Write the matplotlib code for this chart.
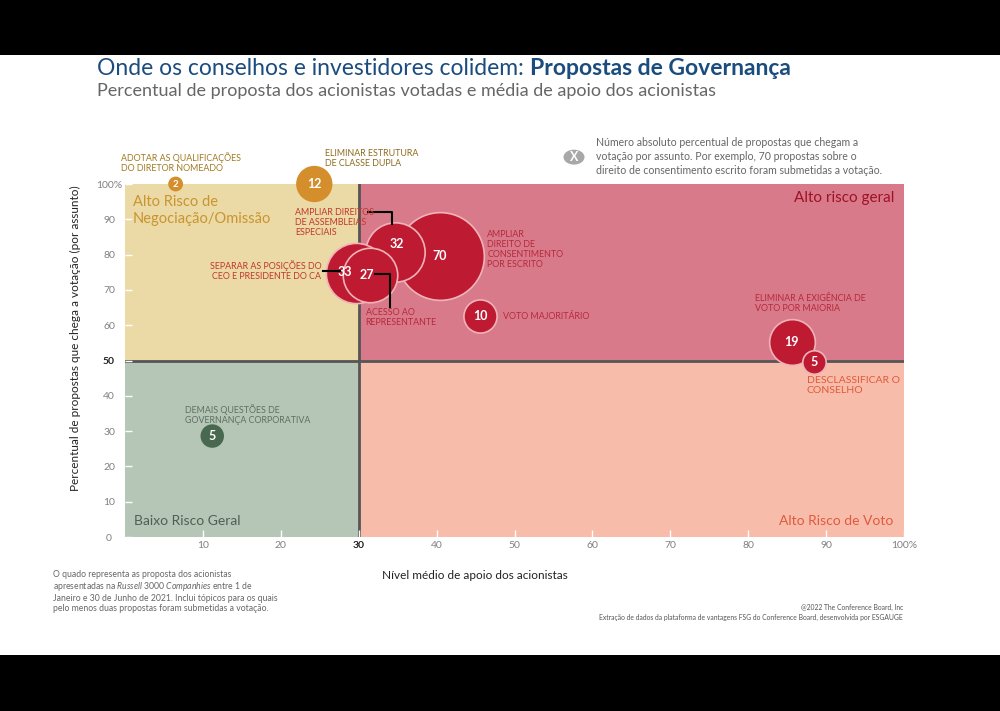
import matplotlib.pyplot as plt
from matplotlib.patches import Rectangle, Circle

plt.rcParams["font.family"] = ["Lato", "DejaVu Sans"]
plt.rcParams["mathtext.fontset"] = "custom"
plt.rcParams["mathtext.it"] = "Lato:italic"
plt.rcParams["mathtext.rm"] = "Lato"

# dados (ordem = ordem de desenho)
counts = [2, 12, 70, 32, 33, 27, 10, 19, 5, 5]
support = [6.5, 24.3, 40.4, 34.7, 29.7, 31.4, 45.6, 85.6, 88.4, 11.2]
voted = [100, 100, 79.6, 80.7, 74.8, 74.2, 62.6, 55.2, 49.6, 28.6]
groups = ["or", "or", "red", "red", "red", "red", "red", "red", "red", "grn"]

x_split, y_split = 30, 50
xticks = [10, 20, 30, 40, 50, 60, 70, 80, 90, 100]
xlabels = ["10", "20", "30", "40", "50", "60", "70", "80", "90", "100%"]
yticks = [0, 10, 20, 30, 40, 50, 60, 70, 80, 90, 100]
ylabels = ["0", "10", "20", "30", "40", "50", "60", "70", "80", "90", "100%"]

fill = {"or": "#D48F2C", "red": "#BE1B33", "grn": "#48684F"}

fig = plt.figure(figsize=(10, 7.11), dpi=100, facecolor="black")
fig.patches.append(Rectangle((0, 0.0788), 1, 0.8438, transform=fig.transFigure,
                             facecolor="white", edgecolor="none", zorder=-10))

ax = fig.add_axes([0.125, 0.2447, 0.779, 0.4965])
ax.set_xlim(0, 100)
ax.set_ylim(0, 100)
for s in ax.spines.values():
    s.set_visible(False)
ax.set_facecolor("none")

# quadrantes
ax.add_patch(Rectangle((0, y_split), x_split, 100 - y_split, color="#EBD9A6", zorder=0))
ax.add_patch(Rectangle((x_split, y_split), 100 - x_split, 100 - y_split, color="#D97A8B", zorder=0))
ax.add_patch(Rectangle((0, 0), x_split, y_split, color="#B5C5B6", zorder=0))
ax.add_patch(Rectangle((x_split, 0), 100 - x_split, y_split, color="#F7BDAA", zorder=0))
ax.plot([x_split, x_split], [0, 100], color="#555555", lw=2, zorder=1)
ax.plot([0, 100], [y_split, y_split], color="#555555", lw=2, zorder=1)

ax.set_xticks(xticks)
ax.set_xticklabels(xlabels)
ax.set_yticks(yticks)
ax.set_yticklabels(ylabels, ha="center")
ax.tick_params(axis="both", direction="in", color="white", length=5, width=1,
               labelsize=7.5, labelcolor="#808080")
ax.tick_params(axis="y", pad=11.5)
ax.tick_params(axis="x", pad=3)
for lab in ax.get_xticklabels():
    if lab.get_text() == str(x_split):
        lab.set_fontweight("bold")
        lab.set_color("#222222")
for lab in ax.get_yticklabels():
    if lab.get_text() == str(y_split):
        lab.set_fontweight("bold")
        lab.set_color("#222222")

# bolhas: area proporcional ao numero de propostas
for i, (x, y, n, g) in enumerate(zip(support, voted, counts, groups)):
    ec = "#EFB3B8" if g == "red" else "none"
    ax.scatter(x, y, s=57 * n, color=fill[g], edgecolors=ec, linewidths=1.2,
               zorder=3 + i, clip_on=False)

label_off = {4: (-8, 1), 3: (1, 6), 5: (-2, 0)}
for i, (x, y, n) in enumerate(zip(support, voted, counts)):
    dx, dy = label_off.get(i, (0, 0))
    fs = 7 if n < 5 else 9
    ax.annotate(str(n), (x, y), xytext=(dx, dy), textcoords="offset points",
                ha="center", va="center", color="white", fontsize=fs,
                fontweight="bold", zorder=20, annotation_clip=False)

# linhas de chamada
ax.plot([31.2, 34.3, 34.3], [92.1, 92.1, 88.7], color="black", lw=1.5, zorder=25, clip_on=False)
ax.plot([25.4, 27.6], [75.4, 75.4], color="black", lw=1.5, zorder=25)
ax.plot([32.1, 34.0, 34.0], [74.5, 74.5, 65.2], color="black", lw=1.5, zorder=25)

ann = dict(fontsize=6.4, linespacing=1.15, zorder=30, clip_on=False)
ax.text(-0.5, 109.1, "ADOTAR AS QUALIFICAÇÕES\nDO DIRETOR NOMEADO", color="#A27A22", va="top", **ann)
ax.text(25.7, 109.9, "ELIMINAR ESTRUTURA\nDE CLASSE DUPLA", color="#8E6C1E", va="top", **ann)
ax.text(21.8, 93.2, "AMPLIAR DIREITOS\nDE ASSEMBLEIAS\nESPECIAIS", color="#C0392B", va="top", **ann)
ax.text(25.2, 75.4, "SEPARAR AS POSIÇÕES DO\nCEO E PRESIDENTE DO CA", color="#C0392B",
        va="center", ha="right", **ann)
ax.text(30.9, 64.9, "ACESSO AO\nREPRESENTANTE", color="#B52A3C", va="top", **ann)
ax.text(46.5, 87.0, "AMPLIAR\nDIREITO DE\nCONSENTIMENTO\nPOR ESCRITO", color="#B52A3C", va="top", **ann)
ax.text(48.5, 62.6, "VOTO MAJORITÁRIO", color="#B52A3C", va="center", **ann)
ax.text(80.9, 68.8, "ELIMINAR A EXIGÊNCIA DE\nVOTO POR MAIORIA", color="#B52A3C", va="top", **ann)
ax.text(87.5, 45.6, "DESCLASSIFICAR O\nCONSELHO", color="#E2593A", va="top",
        fontsize=7.5, linespacing=1.15, zorder=30)
ax.text(7.7, 37.7, "DEMAIS QUESTÕES DE\nGOVERNANÇA CORPORATIVA", color="#5F6F62", va="top", **ann)

# rótulos dos quadrantes
ax.text(1.0, 97.0, "Alto Risco de\nNegociação/Omissão", color="#C9952F", fontsize=10.5,
        va="top", linespacing=1.3, zorder=30)
ax.text(98.8, 98, "Alto risco geral", color="#9E1226", fontsize=11, va="top", ha="right", zorder=30)
ax.text(1.2, 4.5, "Baixo Risco Geral", color="#4F5F55", fontsize=10, va="center", zorder=30)
ax.text(98.6, 4.5, "Alto Risco de Voto", color="#E05A40", fontsize=10, va="center", ha="right", zorder=30)

# títulos
t1 = fig.text(0.097, 0.903, "Onde os conselhos e investidores colidem: ", color="#1B4C7E",
              fontsize=16.5, va="center")
ax.annotate("Propostas de Governança", xy=(1, 0), xycoords=t1, va="bottom",
            color="#1B4C7E", fontsize=16.5, fontweight="bold")
fig.text(0.097, 0.872, "Percentual de proposta dos acionistas votadas e média de apoio dos acionistas",
         color="#666666", fontsize=13, va="center")

# legenda
fig.patches.append(Circle((0.574, 0.779), 0.0105, transform=fig.transFigure,
                          facecolor="#A8A8A8", edgecolor="none"))
fig.text(0.574, 0.779, "X", color="white", fontsize=9, fontweight="bold", ha="center", va="center")
fig.text(0.596, 0.78, "Número absoluto percentual de propostas que chegam a\n"
         "votação por assunto. Por exemplo, 70 propostas sobre o\n"
         "direito de consentimento escrito foram submetidas a votação.",
         color="#666666", fontsize=7.6, va="center", linespacing=1.3)

# eixos
fig.text(0.475, 0.191, "Nível médio de apoio dos acionistas", ha="center", va="center",
         fontsize=8.5, color="#222222")
fig.text(0.075, 0.525, "Percentual de propostas que chega a votação (por assunto)", ha="center",
         va="center", rotation=90, fontsize=8.5, color="#222222")

# notas
fig.text(0.053, 0.198, "O quado representa as proposta dos acionistas\n"
         "apresentadas na $\\mathit{Russell\\ 3000\\ Companhies}$ entre 1 de\n"
         "Janeiro e 30 de Junho de 2021. Inclui tópicos para os quais\n"
         "pelo menos duas propostas foram submetidas a votação.",
         color="#666666", fontsize=6.2, va="top", linespacing=1.1)
fig.text(0.903, 0.139, "@2022 The Conference Board, Inc\n"
         "Extração de dados da plataforma de vantagens FSG do Conference Board, desenvolvida por ESGAUGE",
         color="#555555", fontsize=4.9, ha="right", va="center", multialignment="right", linespacing=1.5)

fig.savefig("out.png", dpi=100, facecolor="black")
